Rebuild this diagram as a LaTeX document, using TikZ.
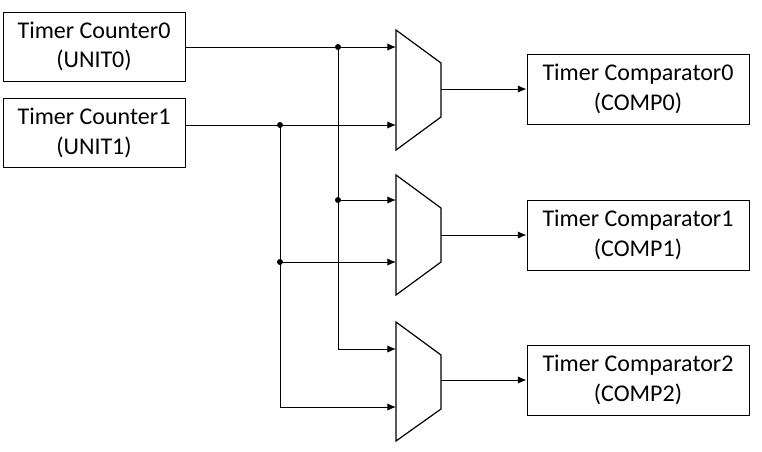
\documentclass[tikz,border=0pt]{standalone}
\usepackage{fontspec}
\setmainfont{Carlito}
\usetikzlibrary{arrows.meta}

\tikzset{
  unitbox/.style={draw, line width=0.75pt, minimum width=136.5pt, minimum height=51.75pt,
    align=center, inner sep=0pt, font=\fontsize{18}{22}\selectfont},
  compbox/.style={unitbox, minimum width=166.5pt, minimum height=52.5pt},
  muxline/.style={draw, line width=0.9pt, line join=miter},
  wire/.style={line width=0.75pt},
  arw/.style={wire, -{Latex[length=6.5pt,width=5.5pt]}},
  dot/.style={circle, fill, inner sep=0pt, minimum size=4.5pt}
}

\begin{document}
\begin{tikzpicture}[x=0.75pt, y=-0.75pt]

\useasboundingbox (0,0) rectangle (762,451);

% Zähler
\node[unitbox] (u0) at (94,46.5) {Timer Counter0\\(UNIT0)};
\node[unitbox] (u1) at (94,133) {Timer Counter1\\(UNIT1)};

% Vergleicher
\node[compbox] (c0) at (638,89) {Timer Comparator0\\(COMP0)};
\node[compbox] (c1) at (638,235) {Timer Comparator1\\(COMP1)};
\node[compbox] (c2) at (638,380) {Timer Comparator2\\(COMP2)};

% Multiplexer
\draw[muxline] (396,30) -- (441,63) -- (441,117) -- (396,150) -- cycle;
\draw[muxline] (396,175) -- (441,208) -- (441,262) -- (396,295) -- cycle;
\draw[muxline] (396,322) -- (441,355) -- (441,409) -- (396,441) -- cycle;

\coordinate (m0a) at (396,47);
\coordinate (m0b) at (396,125);
\coordinate (m0o) at (441,89);
\coordinate (m1a) at (396,200);
\coordinate (m1b) at (396,262);
\coordinate (m1o) at (441,235);
\coordinate (m2a) at (396,349);
\coordinate (m2b) at (396,407);
\coordinate (m2o) at (441,380);

% Verzweigungen
\node[dot] (j0) at (338,47) {};
\node[dot] (j1) at (338,200) {};
\node[dot] (k0) at (280,125) {};
\node[dot] (k1) at (280,262) {};

% Leitungen
\draw[arw] (u0.east |- m0a) -- (m0a);
\draw[arw] (u1.east |- m0b) -- (m0b);
\draw[wire] (j0.center) -- (j1.center);
\draw[arw] (j1.center) |- (m2a);
\draw[arw] (j1.center) -- (m1a);
\draw[wire] (k0.center) -- (k1.center);
\draw[arw] (k1.center) |- (m2b);
\draw[arw] (k1.center) -- (m1b);

% Ausgänge
\draw[arw] (m0o) -- (c0.west);
\draw[arw] (m1o) -- (c1.west);
\draw[arw] (m2o) -- (c2.west);

\end{tikzpicture}
\end{document}
